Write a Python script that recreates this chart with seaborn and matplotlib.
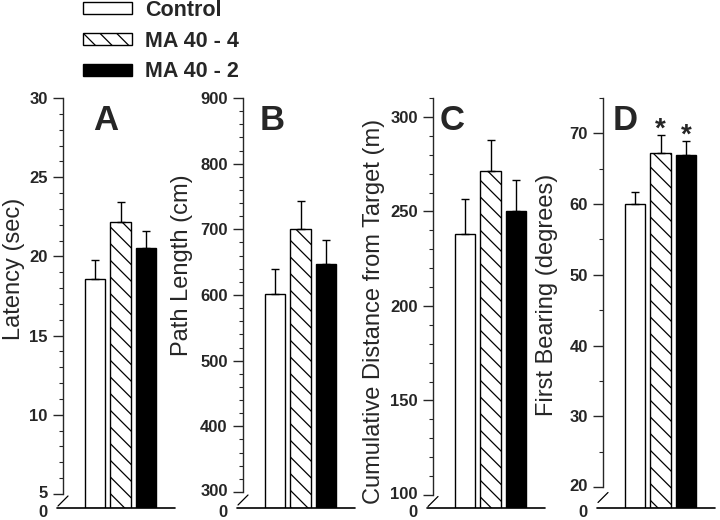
import numpy as np
import matplotlib
matplotlib.use("Agg")
import matplotlib.pyplot as plt
from matplotlib.patches import Patch
from matplotlib.transforms import ScaledTranslation
import seaborn as sns

groups = ["Control", "MA 40 - 4", "MA 40 - 2"]

latency = [18.6, 22.2, 20.5]
latency_sem = [1.15, 1.25, 1.1]
path_length = [601, 700, 647]
path_length_sem = [38, 43, 36]
cum_distance = [238, 271.5, 250]
cum_distance_sem = [18.5, 16.5, 16.5]
first_bearing = [60.0, 67.2, 67.0]
first_bearing_sem = [1.7, 2.6, 1.9]

panel_letters = ["A", "B", "C", "D"]
y_labels = ["Latency (sec)", "Path Length (cm)",
            "Cumulative Distance from Target (m)", "First Bearing (degrees)"]
y_low = [5, 300, 100, 20]
y_top = [30, 900, 310, 75]
major_step = [5, 100, 50, 10]
minor_step = [1, 20, 10, 5]
starred = [[], [], [], [1, 2]]

values = [latency, path_length, cum_distance, first_bearing]
sems = [latency_sem, path_length_sem, cum_distance_sem, first_bearing_sem]

# layout (pixels on a 720x520 canvas)
W, H = 720, 520
spine_x = [63, 243, 433, 603]
ax_w, ax_top, ax_bot = 112, 98, 508
break_px = [14, 16, 13, 21]
letter_dx = [43, 29, 19, 22]
label_x = [-0.34, -0.446, -0.43, -0.40]
label_y = [0.583, 0.593, 0.48, 0.52]

sns.set_style("ticks")
plt.rcParams["font.family"] = ["Liberation Sans", "DejaVu Sans"]
plt.rcParams["hatch.linewidth"] = 0.9
plt.rcParams["axes.linewidth"] = 1.0

colors = {"Control": "white", "MA 40 - 4": "white", "MA 40 - 2": "black"}
hatches = ["", "\\\\", ""]


def make_scale(lo, gap):
    def fwd(y):
        y = np.asarray(y, dtype=float)
        return np.where(y >= lo, y, lo - (lo - y) * gap / lo)

    def inv(t):
        t = np.asarray(t, dtype=float)
        return np.where(t >= lo, t, lo - (lo - t) * lo / gap)

    return fwd, inv


fig = plt.figure(figsize=(W / 100, H / 100), dpi=100)
ax_h = ax_bot - ax_top

for i in range(4):
    ax = fig.add_axes([spine_x[i] / W, (H - ax_bot) / H, ax_w / W, ax_h / H])
    lo, top = y_low[i], y_top[i]
    gap = break_px[i] * (top - lo) / (ax_h - break_px[i])
    ax.set_yscale("function", functions=make_scale(lo, gap))

    sns.barplot(x=groups, y=values[i], hue=groups, palette=colors,
                saturation=1, width=0.8, edgecolor="black", linewidth=1,
                legend=False, ax=ax)
    for p, h in zip(ax.patches, hatches):
        p.set_hatch(h)

    ax.errorbar(x=[0, 1, 2], y=values[i], yerr=[[0, 0, 0], sems[i]],
                fmt="none", ecolor="black", elinewidth=1, capsize=3,
                capthick=1, zorder=3)

    ax.set_xlim(-1.26, 3.13)
    ax.set_ylim(0, top)
    ax.set_xticks([])
    ax.set_xlabel("")

    major = [0] + list(range(lo, top + 1, major_step[i]))
    ax.set_yticks(major, labels=[str(t) for t in major])
    minor = [m for m in range(lo, top + 1, minor_step[i]) if m not in major]
    ax.set_yticks(minor, minor=True)
    ax.tick_params(axis="y", which="major", direction="out", length=7,
                   width=1, labelsize=12, pad=4)
    ax.tick_params(axis="y", which="minor", direction="out", length=3, width=0.8)
    ticks = ax.yaxis.get_major_ticks()
    for t in ticks:
        t.label1.set_fontweight("bold")
    # zero sits below the break: no tick mark, labels nudged apart
    ticks[0].tick1line.set_visible(False)
    ticks[0].label1.set_transform(ticks[0].label1.get_transform()
                                  + ScaledTranslation(0, -3 / 100, fig.dpi_scale_trans))
    ticks[1].label1.set_transform(ticks[1].label1.get_transform()
                                  + ScaledTranslation(0, 2 / 100, fig.dpi_scale_trans))

    sns.despine(ax=ax, bottom=True)
    ax.spines["left"].set_bounds(lo, top)
    ax.axhline(0, xmin=-6 / ax_w, xmax=1, color="black", lw=1.2, clip_on=False)
    yc = break_px[i] / 2 / ax_h
    ax.plot([-5 / ax_w, 5 / ax_w], [yc - 5 / ax_h, yc + 5 / ax_h],
            transform=ax.transAxes, color="black", lw=0.9, clip_on=False)

    ax.set_ylabel(y_labels[i], fontsize=17)
    ax.yaxis.set_label_coords(label_x[i], label_y[i])

    ax.text(letter_dx[i] / ax_w, 1 - 22 / ax_h, panel_letters[i],
            transform=ax.transAxes, ha="center", va="center",
            fontsize=25, fontweight="bold")

    for j in starred[i]:
        ax.annotate("*", (j, values[i][j] + sems[i][j]), xytext=(0, -1),
                    textcoords="offset points", ha="center", va="baseline",
                    fontsize=20, fontweight="bold")

handles = [Patch(facecolor=colors[g], edgecolor="black", hatch=h, linewidth=1)
           for g, h in zip(groups, hatches)]
fig.legend(handles=handles, labels=groups, loc="upper left",
           bbox_to_anchor=(83 / W, 1 - 0 / H), frameon=False,
           prop={"size": 15.5, "weight": "bold"}, handlelength=2.28,
           handleheight=0.47, handletextpad=0.6, labelspacing=0.45,
           borderpad=0, borderaxespad=0)

fig.savefig("out.png", dpi=100)
